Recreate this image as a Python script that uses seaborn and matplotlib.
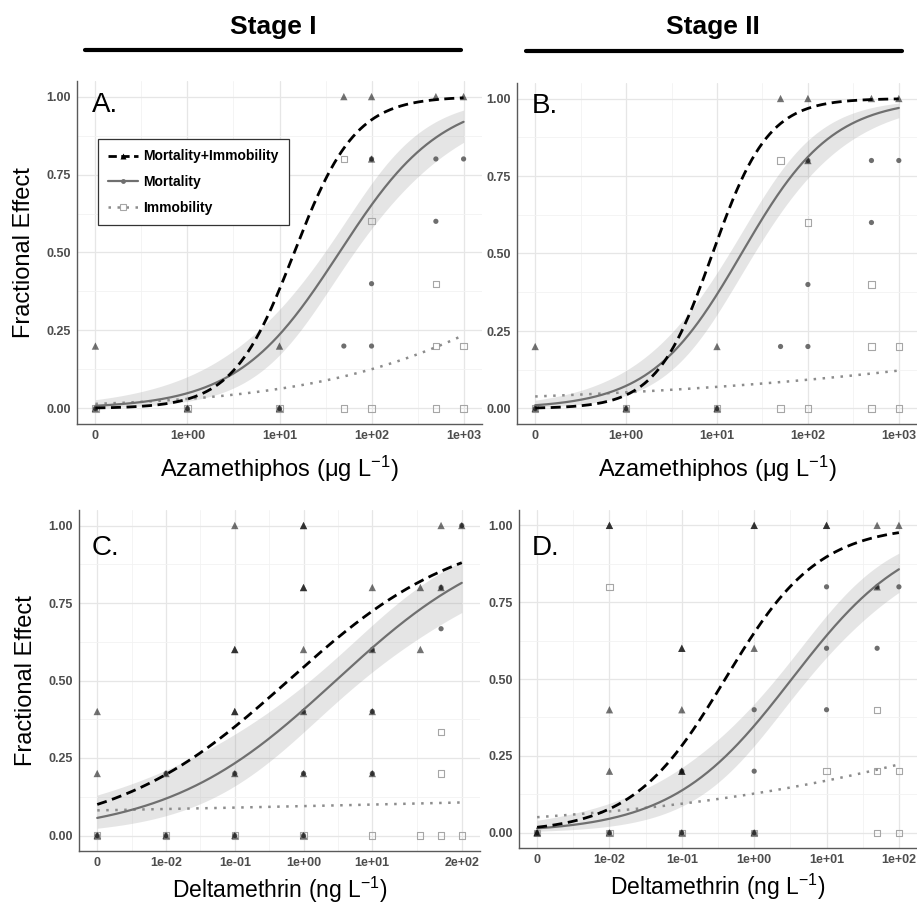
import numpy as np
import pandas as pd
import matplotlib
matplotlib.use("Agg")
import matplotlib.pyplot as plt
from matplotlib.lines import Line2D
import seaborn as sns

# ---------------------------------------------------------------------------
# Tick positions / labels (concentration 0 = control, drawn one decade below
# the lowest tested concentration on the log axis)
# ---------------------------------------------------------------------------
AZA_CONTROL = 0.1
DELTA_CONTROL = 0.001
AZA_TICKS = [0, 1, 10, 100, 1000]
AZA_TICK_LABELS = ["0", "1e+00", "1e+01", "1e+02", "1e+03"]
DELTA_C_TICKS = [0, 0.01, 0.1, 1, 10, 200]
DELTA_C_TICK_LABELS = ["0", "1e-02", "1e-01", "1e+00", "1e+01", "2e+02"]
DELTA_D_TICKS = [0, 0.01, 0.1, 1, 10, 100]
DELTA_D_TICK_LABELS = ["0", "1e-02", "1e-01", "1e+00", "1e+01", "1e+02"]
Y_TICKS = [0.0, 0.25, 0.5, 0.75, 1.0]
Y_TICK_LABELS = ["0.00", "0.25", "0.50", "0.75", "1.00"]

# ---------------------------------------------------------------------------
# Observed fractional effects per replicate
# ---------------------------------------------------------------------------
# Azamethiphos, stage I
A_MI_CONC = [0, 0, 1, 10, 10, 50, 100, 100, 500, 1000]
A_MI_FRAC = [0.2, 0.0, 0.0, 0.2, 0.0, 1.0, 1.0, 0.8, 1.0, 1.0]
A_M_CONC = [0, 1, 10, 50, 100, 100, 100, 500, 500, 1000]
A_M_FRAC = [0.0, 0.0, 0.0, 0.2, 0.8, 0.4, 0.2, 0.8, 0.6, 0.8]
A_I_CONC = [0, 1, 10, 50, 50, 100, 100, 500, 500, 500, 1000, 1000]
A_I_FRAC = [0.0, 0.0, 0.0, 0.8, 0.0, 0.6, 0.0, 0.4, 0.2, 0.0, 0.2, 0.0]

# Azamethiphos, stage II
B_MI_CONC = [0, 0, 1, 10, 10, 50, 100, 100, 500, 1000]
B_MI_FRAC = [0.2, 0.0, 0.0, 0.2, 0.0, 1.0, 1.0, 0.8, 1.0, 1.0]
B_M_CONC = [0, 1, 10, 50, 100, 100, 100, 500, 500, 1000]
B_M_FRAC = [0.0, 0.0, 0.0, 0.2, 0.8, 0.4, 0.2, 0.8, 0.6, 0.8]
B_I_CONC = [0, 1, 10, 50, 50, 100, 100, 500, 500, 500, 1000, 1000]
B_I_FRAC = [0.0, 0.0, 0.0, 0.8, 0.0, 0.6, 0.0, 0.4, 0.2, 0.0, 0.2, 0.0]

# Deltamethrin, stage I
C_MI_CONC = [0, 0, 0, 0.01, 0.01, 0.1, 0.1, 0.1, 0.1, 0.1, 0.1, 0.1,
             1, 1, 1, 1, 1, 1, 1, 1, 10, 10, 10, 10, 50, 50, 100, 100, 200]
C_MI_FRAC = [0.4, 0.2, 0.0, 0.2, 0.0, 1.0, 0.6, 0.6, 0.4, 0.4, 0.2, 0.0,
             1.0, 1.0, 0.8, 0.8, 0.6, 0.4, 0.2, 0.0, 0.8, 0.6, 0.4, 0.2, 0.8, 0.6, 1.0, 0.8, 1.0]
C_M_CONC = [0, 0.01, 0.01, 0.1, 0.1, 1, 1, 1, 10, 10, 10, 100, 100, 200]
C_M_FRAC = [0.0, 0.2, 0.0, 0.2, 0.0, 0.4, 0.2, 0.0, 0.6, 0.4, 0.2, 0.8, 0.667, 1.0]
C_I_CONC = [0, 0.01, 0.1, 1, 10, 50, 100, 100, 100, 200]
C_I_FRAC = [0.0, 0.0, 0.0, 0.0, 0.0, 0.0, 0.333, 0.2, 0.0, 0.0]

# Deltamethrin, stage II
D_MI_CONC = [0, 0, 0.01, 0.01, 0.01, 0.01, 0.01, 0.1, 0.1, 0.1, 0.1, 0.1, 0.1,
             1, 1, 1, 1, 10, 10, 50, 50, 100]
D_MI_FRAC = [0.0, 0.0, 1.0, 1.0, 0.4, 0.2, 0.0, 0.6, 0.6, 0.4, 0.2, 0.2, 0.0,
             1.0, 1.0, 0.6, 0.0, 1.0, 1.0, 1.0, 0.8, 1.0]
D_M_CONC = [0, 0.01, 0.1, 0.1, 1, 1, 1, 10, 10, 10, 50, 50, 100]
D_M_FRAC = [0.0, 0.0, 0.2, 0.0, 0.4, 0.2, 0.0, 0.8, 0.6, 0.4, 0.8, 0.6, 0.8]
D_I_CONC = [0, 0.01, 0.01, 0.1, 1, 10, 50, 50, 50, 100, 100]
D_I_FRAC = [0.0, 0.8, 0.0, 0.0, 0.0, 0.2, 0.4, 0.2, 0.0, 0.2, 0.0]

# ---------------------------------------------------------------------------
# Binomial GLM fits: logit(p) = intercept + slope * log10(conc)
# (intercept, slope) for Mortality+Immobility, Mortality, Immobility
# CI_* = link-scale half-width of the 95% band: (at centre, growth per decade)
# ---------------------------------------------------------------------------
A_MI_FIT = (-3.48, 3.00)
A_M_FIT = (-2.97, 1.80)
A_I_FIT = (-3.46, 0.76)
A_M_CI = (0.28, 0.45)

B_MI_FIT = (-3.09, 3.25)
B_M_FIT = (-2.54, 2.00)
B_I_FIT = (-2.90, 0.31)
B_M_CI = (0.27, 0.40)

C_MI_FIT = (0.174, 0.79)
C_M_FIT = (-0.381, 0.81)
C_I_FIT = (-2.257, 0.057)
C_M_CI = (0.29, 0.25)

D_MI_FIT = (0.62, 1.55)
D_M_FIT = (-0.629, 1.21)
D_I_FIT = (-1.928, 0.337)
D_M_CI = (0.26, 0.30)

# ---------------------------------------------------------------------------
# Styling
# ---------------------------------------------------------------------------
sns.set_theme(style="white")
plt.rcParams["font.family"] = ["Liberation Sans", "DejaVu Sans"]
plt.rcParams["mathtext.default"] = "regular"
plt.rcParams["text.color"] = "black"
plt.rcParams["axes.labelcolor"] = "black"

MI_COLOR = "black"
M_COLOR = "#6f6f6f"
I_COLOR = "#8c8c8c"
SQ_COLOR = "#a6a6a6"
BAND_COLOR = "#999999"
AXIS_COLOR = "#5a5a5a"
TICK_TEXT = "#4d4d4d"

W, H = 917, 905
fig = plt.figure(figsize=(W / 100, H / 100), dpi=100)
fig.patch.set_facecolor("white")


def add_panel(left, top, right, bottom):
    return fig.add_axes([left / W, 1 - bottom / H, (right - left) / W, (bottom - top) / H])


def on_axis(conc, control):
    c = np.asarray(conc, dtype=float)
    return np.where(c > 0, c, control)


def expit(z):
    return 1.0 / (1.0 + np.exp(-z))


def draw_panel(ax, control, ticks, tick_labels, mi, m, i, fits, ci, letter, letter_xy):
    lo = np.log10(control)
    hi = np.log10(max(ticks))
    pad = 0.05 * (hi - lo)

    # grid
    major_u = [np.log10(on_axis([t], control)[0]) for t in ticks]
    minor_u = [(a + b) / 2 for a, b in zip(major_u[:-1], major_u[1:])]
    ax.set_xscale("log")
    ax.set_xlim(10 ** (lo - pad), 10 ** (hi + pad))
    ax.set_ylim(-0.05, 1.05)
    ax.set_xticks(10 ** np.array(major_u), tick_labels)
    ax.set_xticks(10 ** np.array(minor_u), minor=True)
    ax.set_yticks(Y_TICKS, Y_TICK_LABELS)
    ax.set_yticks([0.125, 0.375, 0.625, 0.875], minor=True)
    ax.set_axisbelow(True)
    ax.grid(which="major", color="#e6e6e6", lw=0.9)
    ax.grid(which="minor", color="#f2f2f2", lw=0.6)
    for side in ("top", "right"):
        ax.spines[side].set_visible(False)
    for side in ("left", "bottom"):
        ax.spines[side].set_color(AXIS_COLOR)
        ax.spines[side].set_linewidth(1.0)
    ax.tick_params(which="major", length=3, width=0.8, color=AXIS_COLOR, pad=1.5,
                   labelsize=9, labelcolor=TICK_TEXT)
    ax.tick_params(which="minor", length=0)
    for lab in ax.get_xticklabels() + ax.get_yticklabels():
        lab.set_fontweight("bold")

    # fitted curves
    u = np.linspace(lo, hi, 300)
    x = 10 ** u
    (mi_a, mi_b), (m_a, m_b), (i_a, i_b) = fits
    eta_m = m_a + m_b * u
    centre = -m_a / m_b
    half = np.sqrt(ci[0] ** 2 + (ci[1] * (u - centre)) ** 2)
    ax.fill_between(x, expit(eta_m - half), expit(eta_m + half),
                    color=BAND_COLOR, alpha=0.25, lw=0, zorder=1.5)

    # observed points
    sns.scatterplot(x=on_axis(i[0], control), y=i[1], ax=ax, marker="s", s=20,
                    facecolor="none", edgecolor=SQ_COLOR, linewidth=0.8, zorder=2)
    sns.scatterplot(x=on_axis(m[0], control), y=m[1], ax=ax, marker="o", s=14,
                    color="#555555", edgecolor="none", alpha=0.85, zorder=2.1)
    sns.scatterplot(x=on_axis(mi[0], control), y=mi[1], ax=ax, marker="^", s=28,
                    color="black", edgecolor="none", alpha=0.55, zorder=2.2)

    curves = pd.DataFrame({
        "x": x,
        "mi": expit(mi_a + mi_b * u),
        "m": expit(eta_m),
        "i": expit(i_a + i_b * u),
    })
    sns.lineplot(data=curves, x="x", y="i", ax=ax, color=I_COLOR, lw=1.8,
                 linestyle=(0, (1.0, 2.6)), zorder=3)
    sns.lineplot(data=curves, x="x", y="m", ax=ax, color=M_COLOR, lw=1.6, zorder=3.1)
    sns.lineplot(data=curves, x="x", y="mi", ax=ax, color=MI_COLOR, lw=2.0,
                 linestyle=(0, (3.6, 2.0)), zorder=3.2)

    ax.set_xlabel("")
    ax.set_ylabel("")
    ax.text(letter_xy[0], letter_xy[1], letter, transform=ax.transAxes,
            fontsize=20, ha="left", va="center", color="black")


axA = add_panel(77, 81, 482, 424)
axB = add_panel(517, 83, 917, 424)
axC = add_panel(79, 510, 480, 851)
axD = add_panel(519, 510, 917, 848)

draw_panel(axA, AZA_CONTROL, AZA_TICKS, AZA_TICK_LABELS,
           (A_MI_CONC, A_MI_FRAC), (A_M_CONC, A_M_FRAC), (A_I_CONC, A_I_FRAC),
           (A_MI_FIT, A_M_FIT, A_I_FIT), A_M_CI, "A.", (0.037, 0.930))
draw_panel(axB, AZA_CONTROL, AZA_TICKS, AZA_TICK_LABELS,
           (B_MI_CONC, B_MI_FRAC), (B_M_CONC, B_M_FRAC), (B_I_CONC, B_I_FRAC),
           (B_MI_FIT, B_M_FIT, B_I_FIT), B_M_CI, "B.", (0.0375, 0.933))
draw_panel(axC, DELTA_CONTROL, DELTA_C_TICKS, DELTA_C_TICK_LABELS,
           (C_MI_CONC, C_MI_FRAC), (C_M_CONC, C_M_FRAC), (C_I_CONC, C_I_FRAC),
           (C_MI_FIT, C_M_FIT, C_I_FIT), C_M_CI, "C.", (0.032, 0.890))
draw_panel(axD, DELTA_CONTROL, DELTA_D_TICKS, DELTA_D_TICK_LABELS,
           (D_MI_CONC, D_MI_FRAC), (D_M_CONC, D_M_FRAC), (D_I_CONC, D_I_FRAC),
           (D_MI_FIT, D_M_FIT, D_I_FIT), D_M_CI, "D.", (0.033, 0.889))

# axis titles
for ax in (axA, axB):
    ax.set_xlabel("Azamethiphos (μg L$^{-1}$)", fontsize=17, labelpad=8)
for ax in (axC, axD):
    ax.set_xlabel("Deltamethrin (ng L$^{-1}$)", fontsize=16.5, labelpad=4)
for ax in (axA, axC):
    ax.set_ylabel("Fractional Effect", fontsize=17, labelpad=8)

# legend in panel A
handles = [
    Line2D([], [], color=MI_COLOR, lw=2.0, linestyle=(0, (3.0, 1.6)), marker="^",
           markersize=5, markerfacecolor="black", markeredgecolor="none"),
    Line2D([], [], color=M_COLOR, lw=1.6, marker="o", markersize=3.5,
           markerfacecolor=M_COLOR, markeredgecolor="none"),
    Line2D([], [], color=I_COLOR, lw=1.8, linestyle=(0, (1.0, 2.6)), marker="s",
           markersize=4.5, markerfacecolor="white", markeredgecolor=SQ_COLOR,
           markeredgewidth=0.8),
]
leg = axA.legend(handles, ["Mortality+Immobility", "Mortality", "Immobility"],
                 loc="upper left", bbox_to_anchor=(0.052, 0.831), borderaxespad=0,
                 prop={"weight": "bold", "size": 10}, frameon=True, fancybox=False,
                 framealpha=1, edgecolor="#333333", handlelength=2.1,
                 handletextpad=0.4, borderpad=0.75, labelspacing=0.85)
leg.get_frame().set_linewidth(0.9)
leg.set_zorder(10)

# stage headers
fig.text(273 / W, 1 - 34 / H, "Stage I", ha="center", va="baseline",
         fontsize=19, fontweight="bold", color="black")
fig.text(713 / W, 1 - 34 / H, "Stage II", ha="center", va="baseline",
         fontsize=19, fontweight="bold", color="black")
fig.add_artist(Line2D([85 / W, 461 / W], [1 - 50 / H] * 2, color="black", lw=3.0))
fig.add_artist(Line2D([526 / W, 902 / W], [1 - 51 / H] * 2, color="black", lw=3.0))

fig.savefig("out.png", dpi=100, facecolor="white")
